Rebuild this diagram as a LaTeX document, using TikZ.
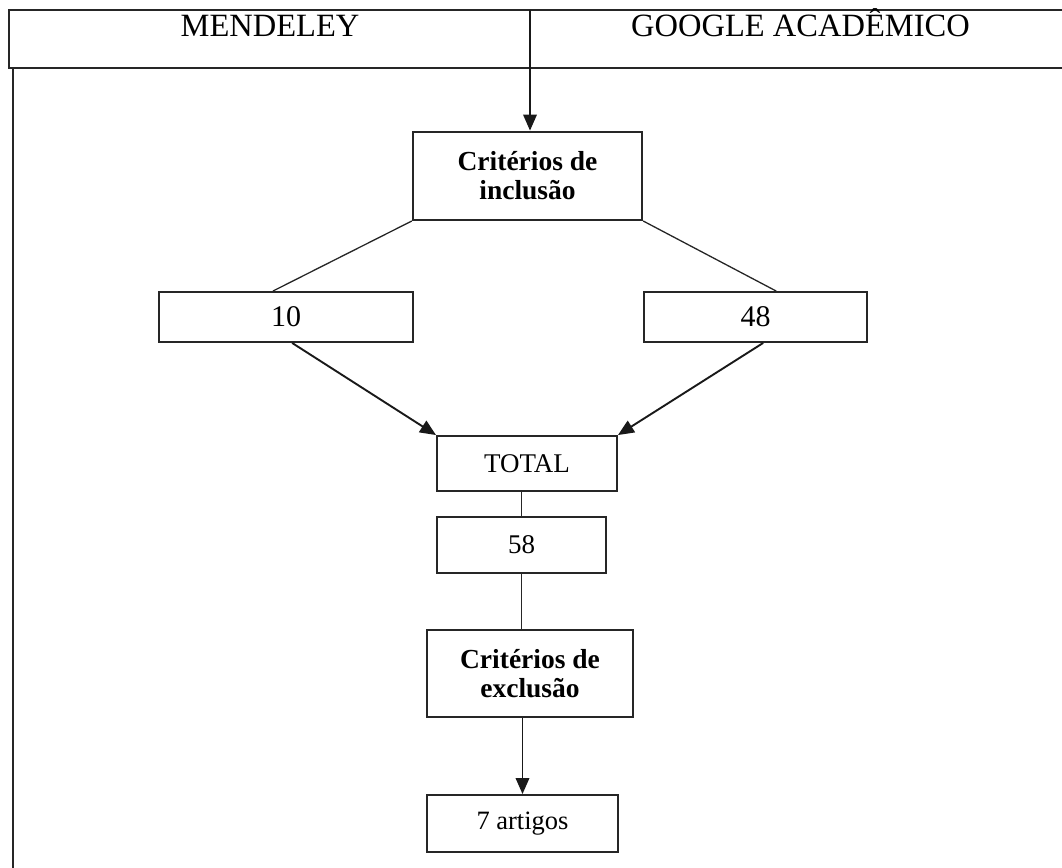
\documentclass[tikz,border=0pt]{standalone}
\usepackage{fontspec}
\setmainfont{Liberation Serif}
\usetikzlibrary{arrows.meta,calc}
\tikzset{
  box/.style={draw=black!85, line width=1.9pt, rectangle, inner sep=0pt, align=center},
  conn/.style={draw=black!85, line width=1.3pt},
  arr/.style={draw=black!90, line width=1.9pt, -{Triangle[length=16pt,width=13.5pt]}},
  hdrtext/.style={anchor=base, font=\fontsize{32.5}{36}\selectfont},
  crit/.style={font=\fontsize{27.5}{29}\selectfont\bfseries},
}
\begin{document}
\begin{tikzpicture}[x=1pt,y=-1pt]
\useasboundingbox (0,0) rectangle (1062,867);
\clip (0,0) rectangle (1062,867);
% header
\draw[conn, line width=2pt] (1080,10) -- (9.3,10) -- (9.3,68) -- (1080,68);
\draw[conn, line width=2pt] (12.7,68) -- (12.7,880);
\node[hdrtext] (hm) at (270,37) {MENDELEY};
\node[hdrtext] (hg) at (800.5,37) {GOOGLE ACADÊMICO};
\coordinate (top) at (530,10);
% boxes
\node[box, crit, minimum width=229.5pt, minimum height=88.5pt] (incl) at (527.5,175.8) {Critérios de\\inclusão};
\node[box, minimum width=254pt, minimum height=50pt, font=\fontsize{30}{34}\selectfont] (n10) at (286,317) {10};
\node[box, minimum width=223pt, minimum height=50pt, font=\fontsize{30}{34}\selectfont] (n48) at (755.5,317) {48};
\node[box, minimum width=180pt, minimum height=55pt, font=\fontsize{27}{30}\selectfont] (total) at (527,463.5) {TOTAL};
\node[box, minimum width=169pt, minimum height=56pt, font=\fontsize{27}{30}\selectfont] (n58) at (521.5,545) {58};
\node[box, crit, minimum width=206pt, minimum height=87pt] (excl) at (530,673.5) {Critérios de\\exclusão};
\node[box, minimum width=191pt, minimum height=57pt, font=\fontsize{26.5}{30}\selectfont] (art) at (522.5,823.5) {7 artigos};
% connectors
\draw[arr] (top) -- (top |- incl.north);
\draw[conn] (incl.south west) -- ($(n10.north west)!0.449!(n10.north east)$);
\draw[conn] (incl.south east) -- ($(n48.north west)!0.592!(n48.north east)$);
\draw[arr] ($(n10.south west)!0.524!(n10.south east)$) -- (total.north west);
\draw[arr] ($(n48.south west)!0.534!(n48.south east)$) -- (total.north east);
\draw[conn] (n58.north |- total.south) -- (n58.north);
\draw[conn] (n58.south) -- (n58.south |- excl.north);
\draw[arr] (art.north |- excl.south) -- (art.north);
\end{tikzpicture}
\end{document}
